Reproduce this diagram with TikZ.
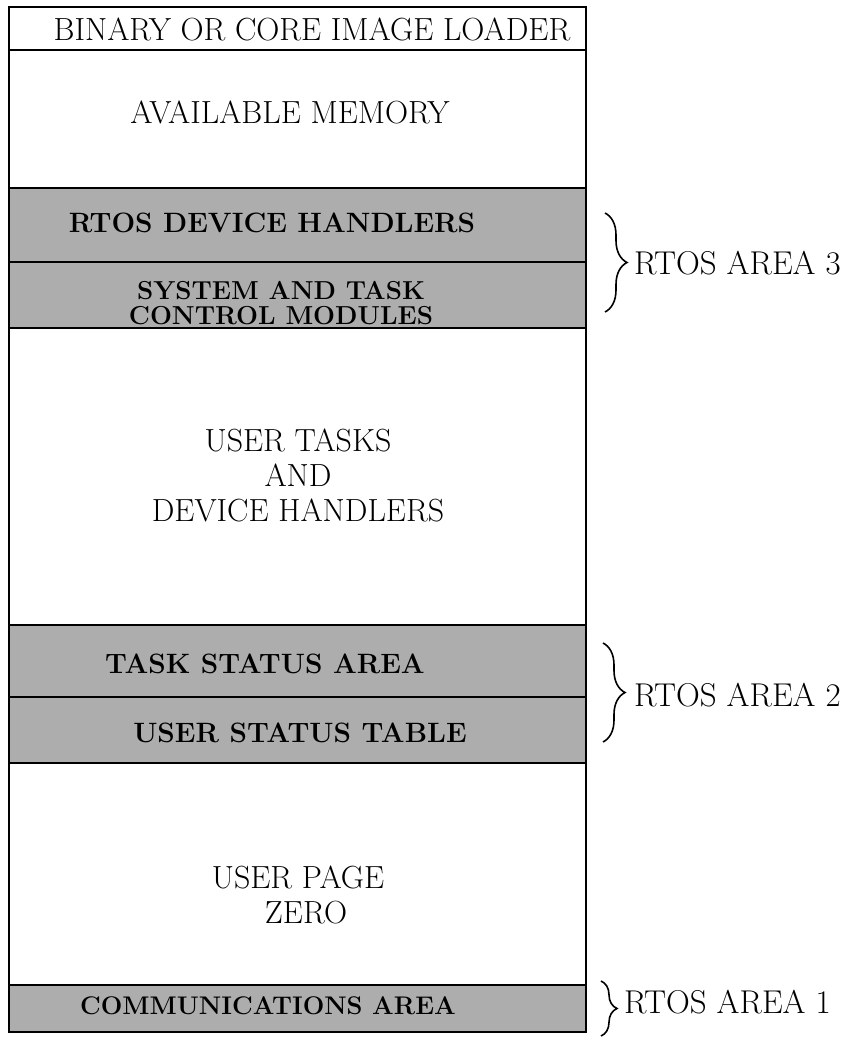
\documentclass[tikz,border=0pt]{standalone}
\usepackage{fontspec}
\usetikzlibrary{decorations.pathreplacing}
\tikzset{
  frame/.style={line width=1.6pt, line cap=round},
  shaded/.style={fill=black!32, draw=black, line width=1.8pt},
  txt/.style={font=\fontsize{32}{35}\selectfont, align=center, inner sep=0pt},
  btxt/.style={font=\fontsize{28}{25}\selectfont\bfseries, align=center, inner sep=0pt},
  side/.style={font=\fontsize{33}{36}\selectfont, anchor=west, inner sep=0pt},
  brc/.style={decorate, decoration={brace, amplitude=#1}, line width=1.6pt}
}
\begin{document}
\begin{tikzpicture}[x=1pt,y=-1pt]
\useasboundingbox (0,0) rectangle (848,1038);
% shaded bands
\draw[shaded] (9,188) rectangle (586,328);
\draw[shaded] (9,262) -- (586,262);
\draw[shaded] (9,625) rectangle (586,763);
\draw[shaded] (9,697) -- (586,697);
\draw[shaded] (9,985) rectangle (586,1032);
% frame
\draw[frame] (9,7) rectangle (586,1032);
\draw[frame] (9,50) -- (586,50);
% texts
\node[txt] (loader) at (312,29) {BINARY OR CORE IMAGE LOADER};
\node[txt] (avail) at (290,112) {AVAILABLE MEMORY};
\node[btxt] (rdh) at (272,223) {RTOS DEVICE HANDLERS};
\node[btxt, font=\fontsize{26}{25}\selectfont\bfseries] (st) at (281,291) {SYSTEM AND TASK};
\node[btxt, font=\fontsize{26}{25}\selectfont\bfseries] (cm) at (281,316) {CONTROL MODULES};
\node[txt] (utd) at (298,475) {USER TASKS\\AND\\DEVICE HANDLERS};
\node[btxt] (tsa) at (265,664) {TASK STATUS AREA};
\node[btxt] (ust) at (300,733) {USER STATUS TABLE};
\node[txt] (upz) at (298,895) {USER PAGE\\\hspace*{16pt}ZERO};
\node[btxt, font=\fontsize{25.5}{25}\selectfont\bfseries] (com) at (268,1006) {COMMUNICATIONS AREA};
% braces
\coordinate (b3t) at (605,213); \coordinate (b3b) at (605,312);
\coordinate (b2t) at (603,643); \coordinate (b2b) at (603,742);
\coordinate (b1t) at (601,981); \coordinate (b1b) at (601,1036);
\draw[brc=22pt] (b3t) -- (b3b);
\draw[brc=22pt] (b2t) -- (b2b);
\draw[brc=16pt] (b1t) -- (b1b);
\node[side] (a3) at (634,263) {RTOS AREA 3};
\node[side] (a2) at (634,695) {RTOS AREA 2};
\node[side] (a1) at (624,1002) {RTOS AREA 1};
\end{tikzpicture}
\end{document}
